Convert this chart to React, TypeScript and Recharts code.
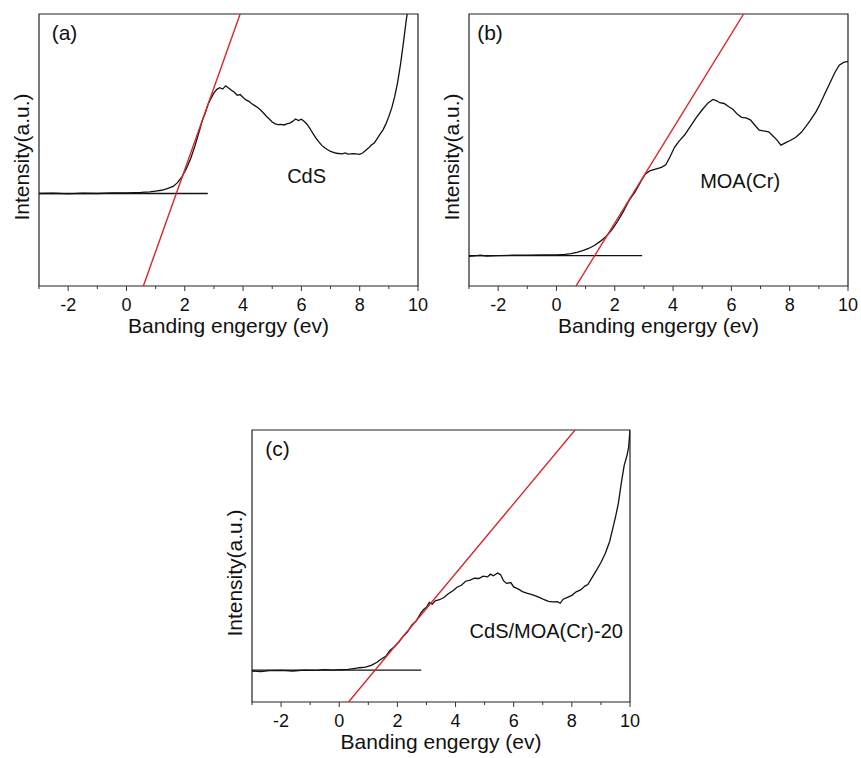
import { LineChart, Line, XAxis, YAxis, ReferenceArea, ReferenceDot } from "recharts";

const xTicks = [-3, -2, -1, 0, 1, 2, 3, 4, 5, 6, 7, 8, 9, 10];

// (a) CdS
const cdsCurve = [
  [-3.0, 34.0], [-2.5, 34.1], [-2.0, 33.9], [-1.5, 34.1], [-1.0, 34.0], [-0.5, 34.2], [0.0, 34.2],
  [0.5, 34.4], [0.8, 34.6], [1.0, 34.9], [1.2, 35.2], [1.4, 35.8], [1.6, 36.6], [1.75, 38.0],
  [1.9, 40.1], [2.05, 43.0], [2.2, 46.8], [2.35, 51.5], [2.5, 57.0], [2.6, 60.8], [2.7, 63.5],
  [2.8, 66.8], [2.9, 69.0], [3.0, 71.0], [3.1, 72.3], [3.2, 72.9], [3.3, 72.4], [3.4, 73.6],
  [3.5, 72.8], [3.6, 72.0], [3.7, 71.2], [3.8, 70.1], [3.9, 70.4], [4.0, 69.3], [4.1, 68.4],
  [4.2, 67.9], [4.3, 67.0], [4.4, 66.3], [4.5, 65.6], [4.6, 64.7], [4.7, 63.6], [4.8, 62.4],
  [4.9, 61.4], [5.0, 60.3], [5.1, 59.6], [5.2, 59.3], [5.3, 59.4], [5.4, 59.2], [5.5, 59.6],
  [5.6, 59.9], [5.7, 60.5], [5.8, 61.4], [5.9, 60.8], [6.0, 61.3], [6.1, 60.5], [6.2, 59.4],
  [6.3, 57.8], [6.4, 56.0], [6.5, 54.4], [6.6, 53.0], [6.7, 51.7], [6.8, 50.8], [6.9, 50.1],
  [7.0, 49.5], [7.2, 48.8], [7.4, 48.6], [7.5, 48.9], [7.6, 48.5], [7.8, 48.7], [8.0, 48.4],
  [8.1, 48.9], [8.2, 49.8], [8.3, 50.7], [8.4, 51.8], [8.5, 52.6], [8.6, 54.2], [8.7, 55.8],
  [8.8, 57.4], [8.9, 59.6], [9.0, 62.3], [9.1, 65.5], [9.2, 69.6], [9.3, 74.8], [9.4, 81.5],
  [9.5, 89.5], [9.6, 98.0], [9.63, 100],
];
const cdsFit = [[0.58, 0], [3.9, 100]];
const cdsBase = [[-3, 34.0], [2.79, 34.0]];

// (b) MOA(Cr)
const moaCurve = [
  [-3.0, 10.9], [-2.8, 11.1], [-2.6, 11.3], [-2.4, 11.0], [-2.0, 11.2], [-1.5, 11.3], [-1.0, 11.3],
  [-0.5, 11.4], [0.0, 11.4], [0.3, 11.6], [0.5, 11.9], [0.7, 12.4], [0.9, 13.0], [1.1, 13.8],
  [1.3, 14.9], [1.5, 16.4], [1.7, 18.2], [1.9, 20.6], [2.1, 23.8], [2.3, 27.5], [2.5, 31.6],
  [2.7, 34.7], [2.9, 38.5], [3.05, 41.2], [3.2, 42.3], [3.4, 43.0], [3.6, 43.6], [3.75, 44.6],
  [3.9, 47.6], [4.05, 51.0], [4.2, 53.2], [4.4, 55.6], [4.6, 58.8], [4.8, 62.0], [5.0, 64.8],
  [5.2, 67.3], [5.37, 68.6], [5.5, 68.1], [5.6, 67.4], [5.75, 67.1], [5.9, 66.0], [6.05, 65.0],
  [6.2, 63.2], [6.35, 62.0], [6.5, 61.8], [6.65, 61.1], [6.8, 59.2], [6.95, 57.3], [7.1, 57.0],
  [7.28, 56.7], [7.4, 55.4], [7.55, 53.8], [7.7, 51.8], [7.85, 52.6], [8.0, 53.4], [8.2, 54.6],
  [8.4, 56.5], [8.55, 58.6], [8.7, 60.8], [8.9, 64.0], [9.05, 67.1], [9.2, 70.6], [9.4, 75.1],
  [9.55, 78.5], [9.7, 81.2], [9.85, 82.2], [10.0, 82.6],
];
const moaFit = [[0.67, 0], [6.42, 100]];
const moaBase = [[-3, 11.2], [2.94, 11.2]];

// (c) CdS/MOA(Cr)-20
const mixCurve = [
  [-3.0, 11.4], [-2.7, 11.2], [-2.4, 11.5], [-2.0, 11.6], [-1.6, 11.4], [-1.2, 11.7], [-0.8, 11.6],
  [-0.5, 11.9], [-0.2, 11.7], [0.0, 11.9], [0.3, 12.0], [0.5, 12.3], [0.7, 12.6], [0.9, 12.8],
  [1.1, 13.5], [1.3, 14.6], [1.45, 15.8], [1.6, 16.8], [1.75, 19.0], [1.9, 20.3], [2.05, 22.0],
  [2.2, 24.2], [2.35, 25.8], [2.5, 28.3], [2.65, 29.8], [2.8, 32.6], [2.9, 34.0], [3.0, 34.8],
  [3.1, 36.6], [3.2, 36.0], [3.3, 37.2], [3.45, 37.6], [3.6, 38.4], [3.75, 39.8], [3.9, 40.8],
  [4.05, 42.2], [4.2, 42.9], [4.35, 44.4], [4.5, 44.8], [4.65, 45.5], [4.8, 45.4], [4.95, 46.3],
  [5.1, 46.0], [5.2, 47.0], [5.3, 46.4], [5.45, 47.4], [5.55, 46.8], [5.65, 44.6], [5.75, 43.6],
  [5.9, 43.9], [6.0, 42.3], [6.15, 41.6], [6.3, 40.6], [6.45, 40.0], [6.6, 39.6], [6.75, 39.0],
  [6.9, 38.4], [7.05, 37.6], [7.2, 37.0], [7.35, 36.8], [7.5, 36.9], [7.6, 36.3], [7.7, 37.8],
  [7.85, 38.5], [8.0, 39.2], [8.15, 40.5], [8.3, 41.2], [8.45, 42.6], [8.55, 43.2], [8.7, 45.8],
  [8.85, 48.5], [9.0, 51.3], [9.15, 54.6], [9.3, 59.0], [9.4, 63.5], [9.5, 68.0], [9.6, 73.0],
  [9.7, 80.5], [9.8, 87.0], [9.9, 90.8], [9.95, 93.5], [10.0, 100],
];
const mixFit = [[0.32, 0], [8.11, 100]];
const mixBase = [[-3, 11.7], [2.82, 11.7]];

const font = "'Liberation Sans', Arial, sans-serif";
const toPts = (arr: number[][]) => arr.map(([x, y]) => ({ x, y }));

function Tick(props: any) {
  const { x, y, payload } = props;
  const v = payload.value;
  const major = v % 2 === 0;
  return (
    <g>
      <line x1={x} x2={x} y1={y} y2={y + (major ? 5 : 3)} stroke="#333" strokeWidth={1} />
      {major && (
        <text x={x} y={y + 24.5} textAnchor="middle" fontSize={18} fill="#111" fontFamily={font}>
          {v}
        </text>
      )}
    </g>
  );
}

type PanelProps = {
  left: number;
  top: number;
  tag: string;
  tagPos: [number, number];
  name: string;
  namePos: [number, number];
  curve: number[][];
  fit: number[][];
  base: number[][];
  marginLeft: number;
};

function Panel(p: PanelProps) {
  return (
    <div style={{ position: "absolute", left: p.left, top: p.top }}>
      <LineChart
        width={430}
        height={345}
        margin={{ top: 14, right: 12, bottom: 9, left: p.marginLeft }}
        style={{ fontFamily: font }}
      >
        <XAxis
          type="number"
          dataKey="x"
          domain={[-3, 10]}
          ticks={xTicks}
          interval={0}
          allowDataOverflow
          axisLine={false}
          tickLine={false}
          tickSize={0}
          tickMargin={0}
          height={50}
          tick={<Tick />}
          label={{
            value: "Banding engergy (ev)",
            position: "insideBottom",
            offset: 3,
            fontSize: 21,
            fill: "#111",
          }}
        />
        <YAxis
          type="number"
          dataKey="y"
          domain={[0, 100]}
          allowDataOverflow
          width={33}
          tick={false}
          axisLine={false}
          tickLine={false}
          label={{
            value: "Intensity(a.u.)",
            angle: -90,
            position: "center",
            dy: 7,
            dx: -0.5,
            fontSize: 21,
            fill: "#111",
          }}
        />
        <ReferenceArea x1={-3} x2={10} y1={0} y2={100} fill="none" fillOpacity={0} stroke="#222" strokeWidth={1.2} />
        <Line data={toPts(p.base)} dataKey="y" type="linear" stroke="#111" strokeWidth={1.3} dot={false} isAnimationActive={false} />
        <Line data={toPts(p.curve)} dataKey="y" type="linear" stroke="#111" strokeWidth={1.3} dot={false} isAnimationActive={false} />
        <Line data={toPts(p.fit)} dataKey="y" type="linear" stroke="#d8262b" strokeWidth={1.4} dot={false} isAnimationActive={false} />
        <ReferenceDot
          x={p.tagPos[0]}
          y={p.tagPos[1]}
          r={0}
          fill="none"
          stroke="none"
          label={{ value: p.tag, position: "center", fontSize: 21, fill: "#111" }}
        />
        <ReferenceDot
          x={p.namePos[0]}
          y={p.namePos[1]}
          r={0}
          fill="none"
          stroke="none"
          label={{ value: p.name, position: "center", fontSize: 20, fill: "#111" }}
        />
      </LineChart>
    </div>
  );
}

export default function App() {
  return (
    <div style={{ position: "absolute", left: 0, top: 0, width: 861, height: 758, background: "#fff", fontFamily: font }}>
      <Panel left={0} top={0} tag="(a)" tagPos={[-2.125, 93.2]} name="CdS" namePos={[6.18, 40.4]}
        curve={cdsCurve} fit={cdsFit} base={cdsBase} marginLeft={6} />
      <Panel left={430} top={0} tag="(b)" tagPos={[-2.28, 93.2]} name="MOA(Cr)" namePos={[6.3, 38.7]}
        curve={moaCurve} fit={moaFit} base={moaBase} marginLeft={6} />
      <Panel left={212} top={416} tag="(c)" tagPos={[-2.12, 93.2]} name="CdS/MOA(Cr)-20" namePos={[7.12, 26.2]}
        curve={mixCurve} fit={mixFit} base={mixBase} marginLeft={7} />
    </div>
  );
}
